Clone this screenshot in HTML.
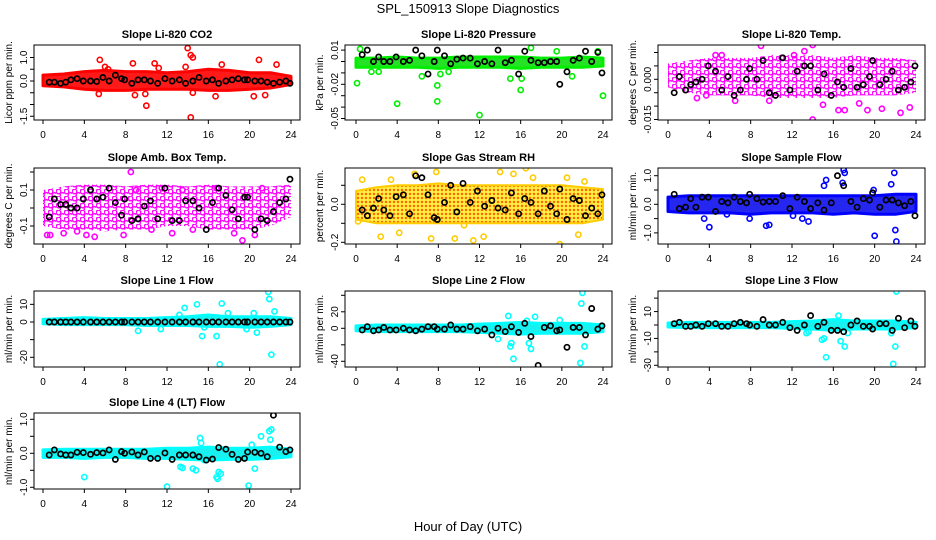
<!DOCTYPE html>
<html><head><meta charset="utf-8">
<style>
html,body{margin:0;padding:0;background:#fff;}
svg{display:block;font-family:"Liberation Sans",sans-serif;}
</style></head>
<body>
<svg id="chart" width="936" height="540" viewBox="0 0 936 540" xmlns="http://www.w3.org/2000/svg">
<defs>
<pattern id="pat-magenta" x="0" y="0" width="8" height="7" patternUnits="userSpaceOnUse">
<circle cx="2.5" cy="2.5" r="2.3" fill="none" stroke="#ff00ff" stroke-width="1.4"/>
<circle cx="6.5" cy="6" r="2.3" fill="none" stroke="#ff00ff" stroke-width="1.4"/>
</pattern>
<pattern id="pat-orange" x="0" y="0" width="4" height="4" patternUnits="userSpaceOnUse">
<rect width="4" height="4" fill="#ffee44"/>
<circle cx="2" cy="2" r="1.2" fill="#ff6600"/>
</pattern>
</defs>
<text x="468" y="13" text-anchor="middle" font-size="13">SPL_150913  Slope Diagnostics</text>
<text x="468" y="531" text-anchor="middle" font-size="13">Hour of Day (UTC)</text>
</svg>
<script>
const xTickLabels = ["0","4","8","12","16","20","24"];
const bandHours = [0,2,4,6,8,10,12,14,16,18,20,22,24];
const meanX = [0.6,1.1,1.7,2.2,2.7,3.3,3.9,4.6,5.2,5.8,6.4,7.0,7.6,7.9,8.6,9.2,9.8,10.4,11.1,11.8,12.5,13.2,13.8,14.5,15.1,15.8,16.4,17.0,17.7,18.3,18.9,19.5,19.8,20.5,21.1,21.7,22.3,22.9,23.5,23.9];

const co2Ticks=[-1.5,-1.0,-0.5,0,0.5,1.0]; const co2Labels=["-1.5","","","0.0","","1.0"];
const co2Hi=[0.25,0.3,0.4,0.45,0.4,0.4,0.35,0.4,0.5,0.45,0.35,0.35,0.2];
const co2Lo=[-0.2,-0.25,-0.35,-0.4,-0.4,-0.35,-0.35,-0.35,-0.4,-0.4,-0.35,-0.3,-0.15];
const co2OutX=[5.5,5.4,6,8.7,8.9,9.9,10,10.8,14,14.3,14.5,14.3,14.5,16.7,20.9,20.4,22.6,21.5,17.3,13.8,6.3,11.2];
const co2OutY=[0.9,-0.55,0.6,0.75,-0.6,-0.55,-1.05,0.75,1.4,1.1,1.0,-1.55,-0.5,-0.65,0.9,-0.65,0.7,-0.6,0.7,0.6,0.5,0.55];
const co2Mean=[-0.05,-0.05,-0.1,-0.05,0.05,0.1,0,0,-0.02,0.15,0,0.25,0.1,0.05,-0.1,0.05,0.05,0,-0.1,0.1,0,0.05,-0.1,0,0.15,0,0.05,-0.1,0,0.05,0.1,0.05,0.05,0,0,-0.05,-0.1,-0.05,0,-0.1];

const prTicks=[-0.05,-0.04,-0.03,-0.02,-0.01,0,0.01]; const prLabels=["-0.05","","","-0.02","","","0.01"];
const prHi=[0.003,0.003,0.004,0.003,0.003,0.004,0.004,0.004,0.004,0.003,0.003,0.004,0.003];
const prLo=[-0.005,-0.005,-0.005,-0.005,-0.006,-0.005,-0.005,-0.005,-0.006,-0.005,-0.005,-0.005,-0.004];
const prOutX=[0.1,0.4,4,7.9,7.9,12,16,20,24,17,6.4,15,1.5,2.2,9,21,8.2,23.5,16.1,19.5];
const prOutY=[-0.019,0.011,-0.037,-0.021,-0.035,-0.047,-0.025,-0.054,-0.03,0.012,-0.013,-0.015,-0.009,-0.009,-0.009,-0.013,-0.011,0.009,-0.015,0.009];
const prMean=[0.006,0.01,0,0.004,0,0,0.004,0,0.001,0.01,0.005,-0.011,0,0.01,0.005,-0.002,0.002,0.003,0.003,-0.002,0,-0.002,0.01,-0.001,0.001,-0.011,0.009,0.001,-0.001,-0.001,0,0,-0.02,-0.009,0.001,0.003,0.009,0,0.008,-0.01];

const tpTicks=[-0.015,-0.010,-0.005,0,0.005,0.010]; const tpLabels=["-0.015","","","0.000","",""];
const tpHi=[0.006,0.007,0.008,0.008,0.008,0.009,0.009,0.009,0.008,0.009,0.008,0.008,0.007];
const tpLo=[-0.003,-0.005,-0.006,-0.006,-0.006,-0.007,-0.007,-0.007,-0.007,-0.006,-0.006,-0.006,-0.005];
const tpOutX=[9,14,14,11,4.6,5.2,6.5,9.8,15,16.5,17.1,19.3,20.7,22.5,23.4,13.2,3.7,12.2,2.8,18.5];
const tpOutY=[0.0125,0.0128,-0.015,0.008,0.009,0.009,-0.008,-0.008,-0.0095,-0.0115,-0.0115,-0.0115,-0.011,-0.0125,-0.0105,0.0105,-0.006,0.009,-0.007,-0.009];
const tpMean=[-0.005,0.001,-0.004,-0.002,-0.001,0,0.005,0.003,-0.004,0.001,-0.006,-0.004,0,0.004,0,0.007,-0.005,-0.006,0.008,-0.004,0.003,0.005,0.005,-0.004,0.002,-0.006,-0.001,-0.003,0.004,-0.003,-0.002,0.001,0.007,-0.002,0,0.003,-0.004,-0.003,-0.001,0.005];

const abTicks=[-0.1,0,0.1,0.2]; const abLabels=["-0.1","","0.1",""];
const abHi=[0.1,0.12,0.13,0.13,0.12,0.13,0.13,0.12,0.13,0.12,0.12,0.12,0.13];
const abLo=[-0.1,-0.12,-0.12,-0.13,-0.12,-0.12,-0.1,-0.1,-0.12,-0.12,-0.12,-0.1,-0.05];
const abOutX=[8.5,17,19.3,5,0.4,0.7,2,4.2,7.8,10.5,12.5,14.5,18.5,20.5,9,3.3,21.2,11.5,16.8,13.5];
const abOutY=[0.2,0.24,-0.18,-0.16,-0.15,-0.15,-0.14,-0.15,-0.15,-0.12,-0.14,-0.12,-0.14,-0.15,0.1,-0.13,0.11,0.11,0.11,0.1];
const abMean=[-0.05,0.05,0.02,0.02,0,0,0.05,0.1,0.05,0.06,0.11,0.03,-0.04,0.05,-0.07,-0.06,0.01,0.04,-0.06,0.11,-0.07,-0.07,0.04,0.04,0,-0.12,0.03,0.11,0.07,-0.01,-0.06,0.06,0.06,-0.12,-0.06,-0.07,-0.02,0.03,0.05,0.16];

const rhTicks=[-0.2,-0.1,0,0.1]; const rhLabels=["-0.2","","0.0",""];
const rhHi=[0.07,0.09,0.1,0.1,0.11,0.1,0.1,0.1,0.1,0.1,0.1,0.09,0.08];
const rhLo=[-0.08,-0.1,-0.1,-0.1,-0.1,-0.1,-0.1,-0.1,-0.1,-0.1,-0.1,-0.1,-0.08];
const rhOutX=[2.4,4.2,7.3,7.8,9.6,11.4,12.4,19.8,21.6,16.5,14,15.3,5.7,3.4,0.6,10.5,17.2,20.5,22.2,0.2];
const rhOutY=[-0.17,-0.15,-0.18,0.17,-0.18,-0.19,-0.17,-0.21,-0.16,0.19,0.17,0.16,0.16,0.13,0.13,-0.11,0.14,0.14,0.12,-0.09];
const rhMean=[-0.03,-0.06,-0.02,0.03,-0.03,-0.06,0.04,0.05,-0.05,0.15,0.14,0.05,-0.07,-0.08,0.01,0.1,-0.04,0.11,0.01,0.07,-0.01,0.02,-0.02,-0.03,0.06,-0.05,0.03,0.01,-0.05,0.07,-0.01,-0.05,0.08,-0.08,0.03,0.02,-0.06,-0.02,-0.05,0.05];

const sfTicks=[-1.0,-0.5,0,0.5,1.0]; const sfLabels=["-1.0","","0.0","","1.0"];
const sfHi=[0.25,0.3,0.3,0.3,0.3,0.3,0.3,0.3,0.3,0.3,0.3,0.35,0.35];
const sfLo=[-0.25,-0.3,-0.3,-0.3,-0.35,-0.3,-0.3,-0.3,-0.35,-0.3,-0.35,-0.35,-0.25];
const sfOutX=[3.5,4,7.9,9.5,9.8,13,13.6,15.1,15.3,17,17.1,16.9,19.9,20,21.6,21.9,22.1,22,5.7,12.1];
const sfOutY=[-0.5,-0.8,-0.5,-0.75,-0.72,-0.5,-0.6,0.65,0.85,1.2,1.1,0.75,0.5,-1.1,0.7,1.1,-1.3,-0.9,-0.35,-0.4];
const sfMean=[0.35,-0.15,-0.1,0.2,-0.1,0.25,0.25,-0.25,0.1,0.05,0.25,0.1,0.05,0.35,0.2,0.08,0.1,0.1,0.3,-0.15,0.25,0.1,-0.15,0.05,-0.2,0.05,1.0,0.65,0.1,-0.1,0.2,0.15,0.4,-0.1,0.15,0.15,0.05,-0.05,0.1,-0.4];

const l1Ticks=[-20,-10,0,10]; const l1Labels=["-20","","0","10"];
const l1Hi=[1.5,2,2.5,2,2,2,2.5,3,4,3,3,3,2];
const l1Lo=[-1,-1.5,-1.5,-1.5,-1.5,-2,-2,-2,-2.5,-2.5,-3,-2.5,-1.5];
const l1OutX=[9.2,11.4,13.7,14.9,15.4,16.8,17.1,17.3,17.9,20.4,20.7,21.8,21.9,22.1,22.4,13.2,15.6,19.7];
const l1OutY=[-5,-4,8,10,-8,-8,-24,10.5,5,5,-6,17,13,-18.5,6,4,-3,-4];
const l1Mean=[0,0,0,0,0,0,0,0,0,0,0,0,0,0,0,0,0,0,0,0,0,0,0,0,0,0,0,0,0,0,0,0,0,0,0,0,0,0,0,0];

const l2Ticks=[-40,-20,0,20,40]; const l2Labels=["-40","","0","20",""];
const l2Hi=[3,4,4,4,4,4,5,6,7,6,6,6,4];
const l2Lo=[-3,-4,-4,-4,-4,-4,-5,-6,-7,-6,-6,-6,-4];
const l2OutX=[14.8,15,15.3,16.8,17,17.4,21.8,22,21.9,22.2,13.8,15.1,19.8,16.6];
const l2OutY=[15,-22,-37,-18,-25,14,-42,43,30,-22,-13,-18,10,9];
const l2Mean=[-2,2,-3,-2,1,-2,-2,0,-2,-3,-1,2,2,-1,-1,4,-1,-1,2,-3,-1,-8,0,-4,2,-5,6,-10,-45,1,3,-3,-2,-23,1,1,-8,24,-1,3];

const l3Ticks=[-30,-20,-10,0,10,20]; const l3Labels=["-30","","-10","","10",""];
const l3Hi=[1.5,2,2,2,2,2,2.5,3,4,3,3,3,2];
const l3Lo=[-1.5,-2,-2,-2,-2,-2,-2.5,-3,-4,-3,-3,-3,-2];
const l3OutX=[14.9,15.1,15.3,16.7,17.1,17.4,21.6,21.8,22,22.1,13.4,13.6,16.5];
const l3OutY=[-11,-10,-24,-12,-16,-6,-6,-29,-16,25,-6,-5,7];
const l3Mean=[1,2,-1,-1,0,-1,1,1,-1,-1,1,2,1,0,-1,4,0,0,2,-2,-4,0,7,-1,2,-4,-4,-5,0,3,-1,-1,-3,1,1,-4,5,-2,3,-1];

const l4Ticks=[-1.0,-0.5,0,0.5,1.0]; const l4Labels=["-1.0","","0.0","","1.0"];
const l4Hi=[0.1,0.12,0.12,0.12,0.12,0.12,0.15,0.15,0.18,0.15,0.15,0.18,0.12];
const l4Lo=[-0.12,-0.12,-0.15,-0.12,-0.12,-0.15,-0.15,-0.18,-0.2,-0.18,-0.18,-0.15,-0.1];
const l4OutX=[4,12,13.3,13.5,15.2,15.3,15.6,16.8,17,16.9,19.9,20.5,21.1,20.2,21.9,22,22.1,14.5,14.8,17.2];
const l4OutY=[-0.7,-0.98,-0.4,-0.43,0.45,0.3,-0.2,-0.7,-0.55,-0.75,-0.95,-0.45,0.5,0.25,0.65,0.4,0.7,-0.45,-0.5,-0.6];
const l4Mean=[-0.05,0.1,-0.02,-0.05,-0.05,0.03,0.02,-0.03,0.02,0.01,0.1,-0.18,0.05,0,0.04,-0.05,0.04,-0.15,-0.15,0.01,-0.18,-0.05,-0.05,-0.05,-0.1,-0.2,-0.17,0.17,0.12,-0.03,-0.18,-0.15,0.04,0.03,0,-0.1,1.12,0.18,0.05,0.1];

const NS="http://www.w3.org/2000/svg";
const svg=document.getElementById('chart');
function mk(tag,attrs,parent){const e=document.createElementNS(NS,tag);for(const k in attrs)e.setAttribute(k,attrs[k]);(parent||svg).appendChild(e);return e;}

const cols=[{L:34,R:300,x0:43,x24:291},{L:345,R:612,x0:356,x24:603},{L:658,R:925,x0:668,x24:916}];
const rows=[{T:45,B:120},{T:168,B:244},{T:291,B:367},{T:413,B:489}];

const panels=[
 {name:"co2",title:"Slope Li-820 CO2",ylab:"Licor ppm per min.",c:0,r:0,v0:0,p0:81,v1:1.0,p1:57.5,ticks:co2Ticks,labels:co2Labels,hi:co2Hi,lo:co2Lo,ox:co2OutX,oy:co2OutY,mean:co2Mean,col:"#ff0000",fill:"#ff0000",op:0.9,sw:3},
 {name:"pressure",title:"Slope Li-820 Pressure",ylab:"kPa per min.",c:1,r:0,v0:0,p0:61.5,v1:0.01,p1:50.1,ticks:prTicks,labels:prLabels,hi:prHi,lo:prLo,ox:prOutX,oy:prOutY,mean:prMean,col:"#00ee00",fill:"#00dd00",op:0.85,sw:3},
 {name:"temp",title:"Slope Li-820 Temp.",ylab:"degrees C per min.",c:2,r:0,v0:0,p0:79.3,v1:-0.015,p1:119.5,ticks:tpTicks,labels:tpLabels,hi:tpHi,lo:tpLo,ox:tpOutX,oy:tpOutY,mean:tpMean,col:"#ff00ff",fill:"url(#pat-magenta)",op:1,sw:0},
 {name:"amb-box-temp",title:"Slope Amb. Box Temp.",ylab:"degrees C per min.",c:0,r:1,v0:0.1,p0:190,v1:-0.1,p1:226,ticks:abTicks,labels:abLabels,hi:abHi,lo:abLo,ox:abOutX,oy:abOutY,mean:abMean,col:"#ff00ff",fill:"url(#pat-magenta)",op:1,sw:0},
 {name:"gas-stream-rh",title:"Slope Gas Stream RH",ylab:"percent per min.",c:1,r:1,v0:0,p0:204.3,v1:-0.2,p1:242.3,ticks:rhTicks,labels:rhLabels,hi:rhHi,lo:rhLo,ox:rhOutX,oy:rhOutY,mean:rhMean,col:"#ffcc00",fill:"url(#pat-orange)",op:1,sw:2},
 {name:"sample-flow",title:"Slope Sample Flow",ylab:"ml/min per min.",c:2,r:1,v0:0,p0:204.3,v1:1.0,p1:175.7,ticks:sfTicks,labels:sfLabels,hi:sfHi,lo:sfLo,ox:sfOutX,oy:sfOutY,mean:sfMean,col:"#0000ff",fill:"#0000ee",op:0.85,sw:3},
 {name:"line1-flow",title:"Slope Line 1 Flow",ylab:"ml/min per min.",c:0,r:2,v0:0,p0:322,v1:-20,p1:357.3,ticks:l1Ticks,labels:l1Labels,hi:l1Hi,lo:l1Lo,ox:l1OutX,oy:l1OutY,mean:l1Mean,col:"#00ffff",fill:"#00f0f0",op:0.9,sw:3},
 {name:"line2-flow",title:"Slope Line 2 Flow",ylab:"ml/min per min.",c:1,r:2,v0:0,p0:328.3,v1:-40,p1:361.3,ticks:l2Ticks,labels:l2Labels,hi:l2Hi,lo:l2Lo,ox:l2OutX,oy:l2OutY,mean:l2Mean,col:"#00ffff",fill:"#00f0f0",op:0.9,sw:3},
 {name:"line3-flow",title:"Slope Line 3 Flow",ylab:"ml/min per min.",c:2,r:2,v0:0,p0:325,v1:-30,p1:365.3,ticks:l3Ticks,labels:l3Labels,hi:l3Hi,lo:l3Lo,ox:l3OutX,oy:l3OutY,mean:l3Mean,col:"#00ffff",fill:"#00f0f0",op:0.9,sw:3},
 {name:"line4-flow",title:"Slope Line 4 (LT) Flow",ylab:"ml/min per min.",c:0,r:3,v0:0,p0:453.3,v1:1.0,p1:419.3,ticks:l4Ticks,labels:l4Labels,hi:l4Hi,lo:l4Lo,ox:l4OutX,oy:l4OutY,mean:l4Mean,col:"#00ffff",fill:"#00f0f0",op:0.9,sw:3}
];

panels.forEach(function(p){
  const c=cols[p.c], r=rows[p.r];
  const xs=function(h){return c.x0+(c.x24-c.x0)*h/24;};
  const ys=function(v){return p.p0+(v-p.v0)*(p.p1-p.p0)/(p.v1-p.v0);};
  const g=mk('g',{});
  
  
  const cid='clip-'+p.name;
  const cp=mk('clipPath',{id:cid},g); mk('rect',{x:c.L,y:r.T,width:c.R-c.L,height:r.B-r.T},cp);
  const plot=mk('g',{'clip-path':'url(#'+cid+')'},g);
  let pts=bandHours.map(function(h,i){return xs(h)+','+ys(p.hi[i]);});
  for(let i=bandHours.length-1;i>=0;i--) pts.push(xs(bandHours[i])+','+ys(p.lo[i]));
  const band=mk('polygon',{points:pts.join(' '),fill:p.fill,'fill-opacity':p.op,stroke:p.sw?p.col:'none','stroke-width':p.sw,'stroke-linejoin':'round'},plot);
  
  
  p.ox.forEach(function(x,i){
    const e=mk('circle',{cx:xs(x),cy:ys(p.oy[i]),r:2.6,fill:'none',stroke:p.col,'stroke-width':1.6},plot);
    
    
  });
  meanX.forEach(function(x,i){
    const e=mk('circle',{cx:xs(x),cy:ys(p.mean[i]),r:2.6,fill:'none',stroke:'#000','stroke-width':1.7},plot);
    
    
  });
  const box=mk('rect',{x:c.L,y:r.T,width:c.R-c.L,height:r.B-r.T,fill:'none',stroke:'#000','stroke-width':1},g);
  
  
  const t=mk('text',{x:(c.L+c.R)/2,y:r.T-7,'text-anchor':'middle','font-size':11,'font-weight':'bold'},g);
  t.textContent=p.title;
  
  
  const ym=(r.T+r.B)/2, yx=c.L-22;
  const yl=mk('text',{x:yx,y:ym,'text-anchor':'middle','font-size':10,transform:'rotate(-90 '+yx+' '+ym+')'},g);
  yl.textContent=p.ylab;
  
  
  p.ticks.forEach(function(v,i){
    const y=ys(v);
    mk('line',{x1:c.L-4,x2:c.L,y1:y,y2:y,stroke:'#000','stroke-width':1},g);
    if(p.labels[i]){
      const tx=c.L-7;
      const tl=mk('text',{x:tx,y:y,'text-anchor':'middle','font-size':10,transform:'rotate(-90 '+tx+' '+y+')'},g);
      tl.textContent=p.labels[i];
      
      
    }
  });
  xTickLabels.forEach(function(lab){
    const x=xs(parseFloat(lab));
    mk('line',{x1:x,x2:x,y1:r.B,y2:r.B+4,stroke:'#000','stroke-width':1},g);
    const tl=mk('text',{x:x,y:r.B+18,'text-anchor':'middle','font-size':10},g);
    tl.textContent=lab;
    
    
  });
});
</script>
</body></html>
